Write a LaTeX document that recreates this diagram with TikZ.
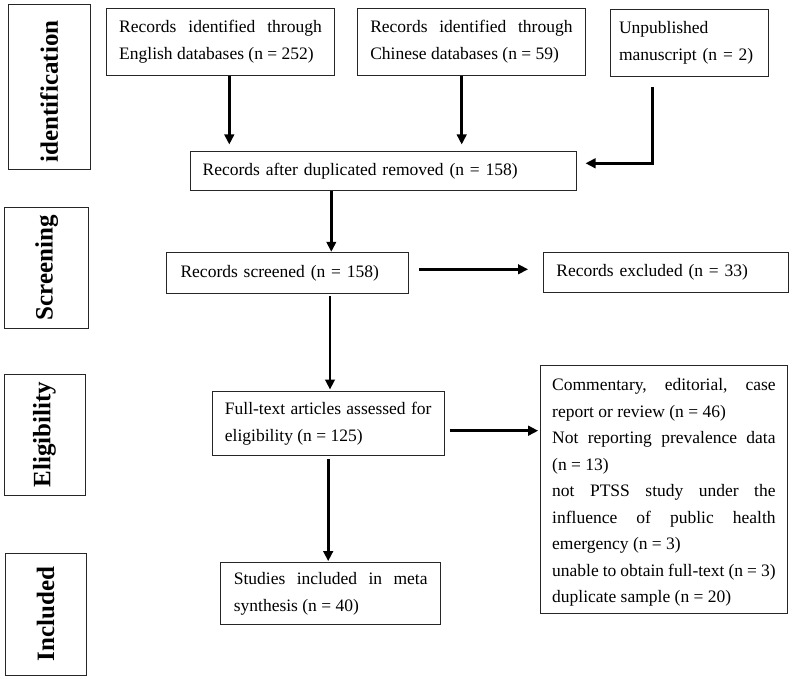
\documentclass[tikz,border=0pt]{standalone}
\usepackage{fontspec}
\setmainfont{Liberation Serif}
\usetikzlibrary{arrows.meta}
\begin{document}
\begin{tikzpicture}[x=1pt,y=-1pt,
  box/.style={draw=black!85, line width=1pt, inner sep=0pt, font=\fontsize{17.5}{26.5}\selectfont},
  lab/.style={draw=black!85, line width=1pt, inner sep=0pt, font=\fontsize{25}{30}\selectfont\bfseries},
  arr/.style={line width=2.6pt, -{Triangle[length=10pt,width=9.5pt]}}]
\useasboundingbox (0,0) rectangle (793,679);

% stage labels
\node[lab, minimum width=82pt, minimum height=165pt] (idlab) at (49.2,87.4) {\rotatebox{90}{identification\hspace{8pt}}};
\node[lab, minimum width=83.5pt, minimum height=121pt] (scrlab) at (46.7,267.8) {\rotatebox{90}{Screening}};
\node[lab, minimum width=81pt, minimum height=121.3pt] (elilab) at (44.5,434.7) {\rotatebox{90}{Eligibility}};
\node[lab, minimum width=81pt, minimum height=121.7pt] (inclab) at (45.5,614.2) {\rotatebox{90}{Included}};

% boxes
\node[box, minimum width=227.6pt, minimum height=67pt, text width=202.6pt, align=justify] (eng) at (220.5,41.8)
  {Records identified through\linebreak English databases (n = 252)};
\node[box, minimum width=227.3pt, minimum height=67pt, text width=202.3pt, align=justify] (chi) at (471.4,41.8)
  {Records identified through\linebreak Chinese databases (n = 59)};
\node[box, minimum width=158pt, minimum height=67.4pt, text width=140pt, align=left] (unp) at (689,43)
  {Unpublished\\manuscript (n = 2)};
\node[box, minimum width=386pt, minimum height=39pt, text width=362pt, align=left] (dup) at (383.7,171.2)
  {Records after duplicated removed (n = 158)};
\node[box, minimum width=241.7pt, minimum height=41pt, text width=214.5pt, align=left] (scr) at (287.8,272.8)
  {Records screened (n = 158)};
\node[box, minimum width=244.2pt, minimum height=40pt, text width=219pt, align=left] (exc) at (665.9,272.3)
  {Records excluded (n = 33)};
\node[box, minimum width=231.7pt, minimum height=64pt, text width=206.5pt, align=justify] (ft) at (328.2,423.7)
  {Full-text articles assessed for\linebreak eligibility (n = 125)};
\node[box, minimum width=247.4pt, minimum height=247.6pt, text width=223.4pt, align=justify] (ex2) at (663.9,489.5)
  {\rule{0pt}{18pt}Commentary, editorial, case\linebreak report or review (n = 46)\par
   Not reporting prevalence data\linebreak (n = 13)\par
   not PTSS study under the\linebreak influence of public health\linebreak emergency (n = 3)\par
   unable to obtain full-text (n = 3)\par
   duplicate sample (n = 20)};
\node[box, minimum width=220.5pt, minimum height=62.3pt, text width=193.7pt, align=justify] (stu) at (330.7,593.8)
  {Studies included in meta\linebreak synthesis (n = 40)};

% connectors
\draw[arr, shorten >=6.7pt] ([xshift=8.8pt]eng.south) -- ([xshift=8.8pt]eng.south |- dup.north);
\draw[arr, shorten >=6.7pt] ([xshift=-9.7pt]chi.south) -- ([xshift=-9.7pt]chi.south |- dup.north);
\draw[arr, shorten <=10pt, shorten >=8.3pt] ([xshift=-36.3pt]unp.south) |- ([yshift=7.9pt]dup.east);
\draw[arr] ([xshift=-52.4pt]dup.south) -- ([xshift=-52.4pt]dup.south |- scr.north);
\draw[arr, shorten <=10pt, shorten >=15.2pt] ([yshift=3.5pt]scr.east) -- ([yshift=3.5pt]scr.east -| exc.west);
\draw[arr, shorten <=2.7pt, shorten >=1.7pt] ([xshift=42.2pt]scr.south) -- ([xshift=42.2pt]scr.south |- ft.north);
\draw[arr, shorten <=5pt, shorten >=1.5pt] ([yshift=-7pt]ft.east) -- ([yshift=-7pt]ft.east -| ex2.west);
\draw[arr, shorten <=2.6pt, shorten >=1pt] (ft.south) -- (ft.south |- stu.north);
\end{tikzpicture}
\end{document}
